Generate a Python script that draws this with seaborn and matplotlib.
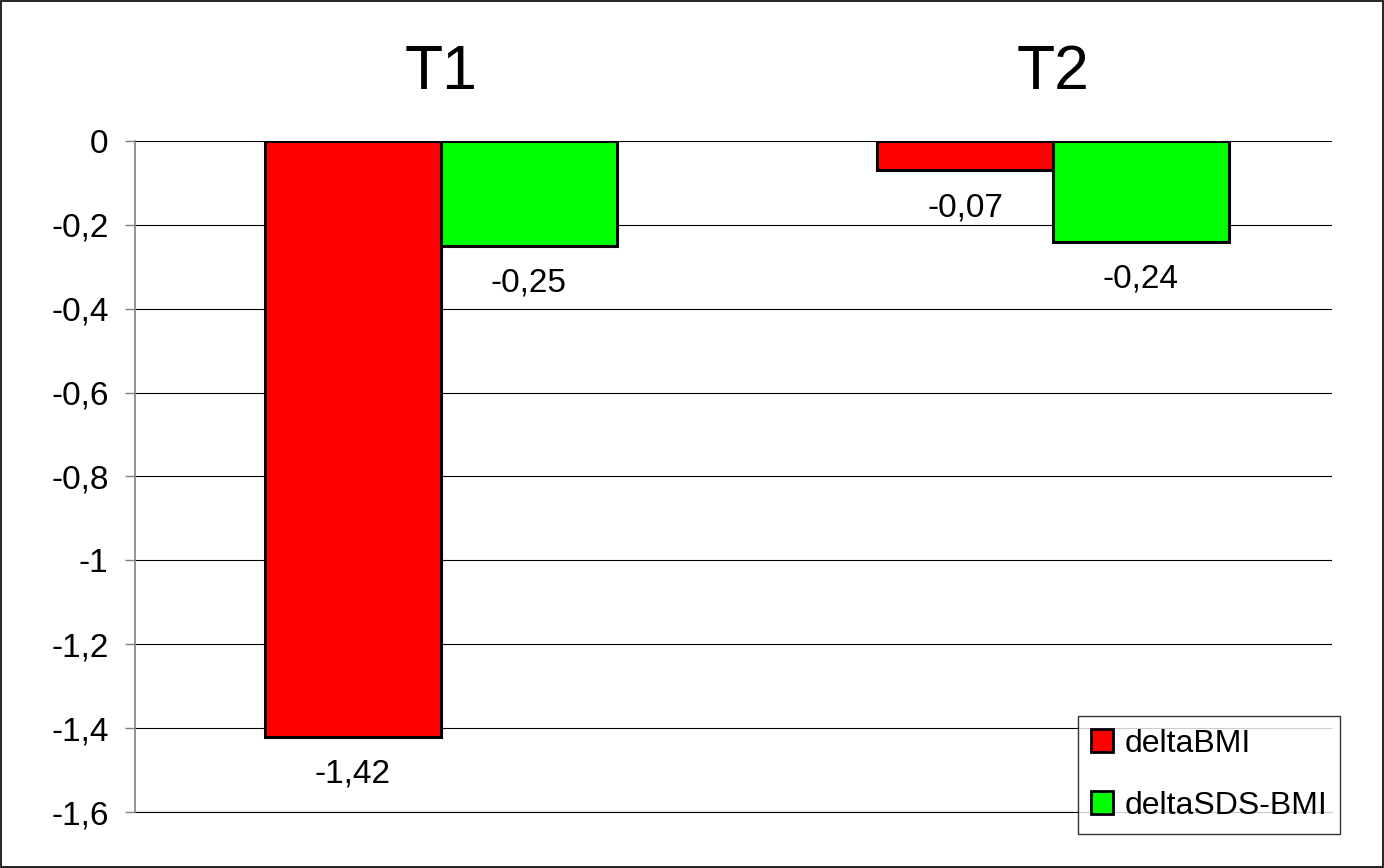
import numpy as np
import matplotlib
matplotlib.use('Agg')
import matplotlib.pyplot as plt
import pandas as pd
import seaborn as sns

# data
categories = ['T1', 'T2']
series = ['deltaBMI', 'deltaSDS-BMI']
delta_bmi = [-1.42, -0.07]
delta_sds_bmi = [-0.25, -0.24]
y_ticks = [0, -0.2, -0.4, -0.6, -0.8, -1, -1.2, -1.4, -1.6]
colors = ['#FF0000', '#00FF00']

df = pd.DataFrame({
    'cat': categories * 2,
    'series': [series[0]] * 2 + [series[1]] * 2,
    'value': delta_bmi + delta_sds_bmi,
})

sns.set_style('white')
plt.rcParams['font.family'] = ['Liberation Sans', 'DejaVu Sans']
plt.rcParams['text.color'] = 'black'
plt.rcParams['xtick.color'] = 'black'
plt.rcParams['ytick.color'] = 'black'

fig = plt.figure(figsize=(13.84, 8.68), dpi=100)
ax = fig.add_axes([0.0975, 0.0645, 0.865, 0.7731])

sns.barplot(data=df, x='cat', y='value', hue='series', hue_order=series,
            order=categories, palette=colors, width=0.575, saturation=1,
            edgecolor='black', linewidth=2.2, ax=ax, legend=False, zorder=3)

ax.set_xlim(-0.5, 1.456)
ax.set_ylim(-1.6, 0)
ax.set_yticks(y_ticks)
ax.set_yticklabels([f'{t:g}'.replace('.', ',') for t in y_ticks], fontsize=24)
ax.yaxis.grid(True, color='black', linewidth=0.8, zorder=0)
ax.axhline(-1.6, color='black', linewidth=0.8, clip_on=False, zorder=0)
ax.set_axisbelow(True)
ax.tick_params(axis='y', length=7, color='#808080', width=1, pad=12, left=True,
               labelcolor='black')

# category labels on top
ax.xaxis.tick_top()
ax.tick_params(axis='x', length=0, labelsize=45, pad=28, labelcolor='black')
ax.set_xlabel('')
ax.set_ylabel('')

for s in ['top', 'right', 'bottom']:
    ax.spines[s].set_visible(False)
ax.spines['left'].set_color('#808080')
ax.spines['left'].set_linewidth(1.2)

# value labels under each bar
for cont in ax.containers:
    for bar in cont:
        h = bar.get_height()
        ax.annotate(f'{h:.2f}'.replace('.', ','),
                    (bar.get_x() + bar.get_width() / 2, h),
                    xytext=(0, -27), textcoords='offset points',
                    ha='center', va='center', fontsize=24, color='black')

handles = [plt.Rectangle((0, 0), 1, 1, facecolor=c, edgecolor='black', linewidth=2)
           for c in colors]
leg = fig.legend(handles, series, loc='upper left',
                 bbox_to_anchor=(1078 / 1384, 1 - 716 / 868),
                 fontsize=23, frameon=True, fancybox=False, edgecolor='black',
                 handlelength=0.7, handleheight=0.7, handletextpad=0.35,
                 labelspacing=1.0, borderpad=0.4, borderaxespad=0)
leg.get_frame().set_linewidth(1)

# outer chart border
fig.patches.append(plt.Rectangle((0.0005, 0.0008), 0.999, 0.9985, transform=fig.transFigure,
                                 fill=False, edgecolor='black', linewidth=1.2))

fig.savefig('out.png', dpi=100)
